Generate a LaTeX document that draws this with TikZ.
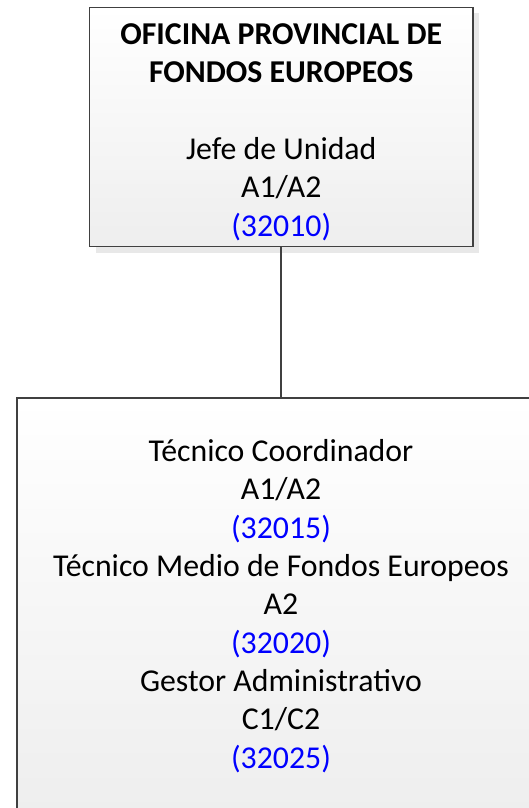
\documentclass[tikz,border=0pt]{standalone}
\usepackage{fontspec}
\setmainfont{Carlito}
\usetikzlibrary{shadows}
\definecolor{boxline}{RGB}{64,64,64}
\definecolor{boxbottom}{RGB}{238,238,238}
\definecolor{shadowgray}{RGB}{232,232,232}
\definecolor{codeblue}{RGB}{0,0,255}
\tikzset{
  orgbox/.style={draw=boxline, line width=1.3pt, rectangle, align=center,
    top color=white, bottom color=boxbottom, inner sep=0pt,
    general shadow={fill=shadowgray, shadow xshift=6pt, shadow yshift=-6pt},
    font=\fontsize{31.8}{38.3}\selectfont},
  link/.style={draw=boxline, line width=1.6pt}
}
\begin{document}
\begin{tikzpicture}[x=1pt,y=1pt]
\useasboundingbox (0,0) rectangle (529,-808);
\node[orgbox, minimum width=383.5pt, minimum height=239pt] (top) at (281.25,-127)
  {\rule{0pt}{31pt}\textbf{OFICINA PROVINCIAL DE}\\ \textbf{FONDOS EUROPEOS}\\[38.3pt]
   Jefe de Unidad\\ A1/A2\\ \textcolor{codeblue}{(32010)}};
\node[orgbox, minimum width=528pt, minimum height=416pt] (bot) at (281,-606)
  {Técnico Coordinador\\ A1/A2\\ \textcolor{codeblue}{(32015)}\\
   Técnico Medio de Fondos Europeos\\ A2\\ \textcolor{codeblue}{(32020)}\\
   Gestor Administrativo\\ C1/C2\\ \textcolor{codeblue}{(32025)}};
\draw[link] (top.south) -- (bot.north -| top.south);
\end{tikzpicture}
\end{document}
